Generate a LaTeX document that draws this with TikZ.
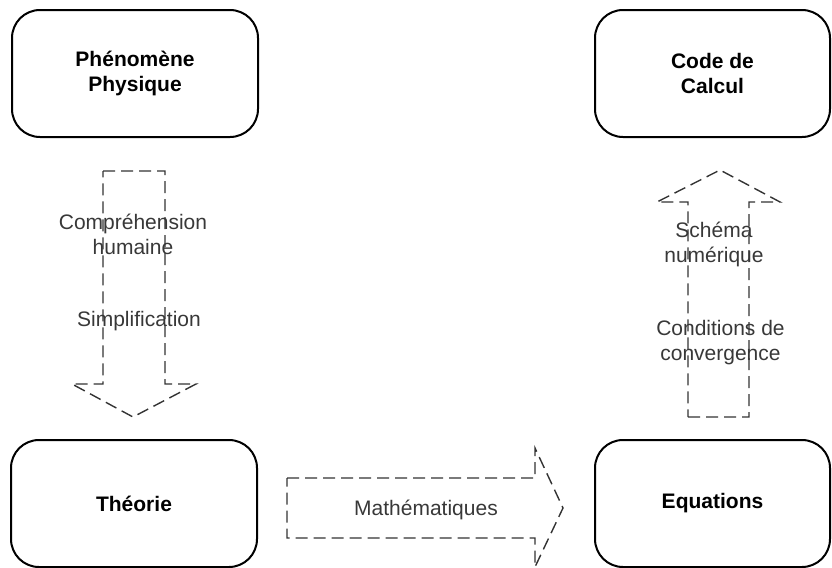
\documentclass[tikz,border=0pt]{standalone}
\usepackage{fontspec}
\setmainfont{Liberation Sans}
\usetikzlibrary{positioning}
\definecolor{trait-gris}{HTML}{333333}
\definecolor{texte-gris}{HTML}{383838}
\tikzset{
  etape/.style={draw=black, line width=1pt, rounded corners=14pt,
    minimum width=123pt, minimum height=63.5pt, align=center,
    font=\fontsize{10.5}{12.5}\selectfont\bfseries},
  bloc/.style={draw=trait-gris, line width=0.7pt, dash pattern=on 6pt off 3pt},
  etiquette/.style={text=texte-gris, align=center, inner sep=0pt,
    font=\fontsize{10.5}{12.5}\selectfont}
}

\begin{document}
\begin{tikzpicture}[x=0.5pt, y=-0.5pt]
        \useasboundingbox (0,0) rectangle (832,568);
        % Boites
        \node[etape] (phenomene) at (135,73.5) {Phénomène\\Physique};
        \node[etape, minimum width=117.5pt] (code) at (712.5,73.5) {Code de\\Calcul};
        \node[etape] (theorie) at (134,503.5) {Théorie};
        \node[etape, minimum width=117.5pt] (equations) at (712.5,503.5) {Equations};
        % Fleches en pointilles
        \draw[bloc] (103,171) -- (165,171) -- (165,384) -- (196,384)
              -- (133,417) -- (72,384) -- (103,384) -- cycle;
        \draw[bloc] (287,478) -- (535,478) -- (535,448) -- (563,508)
              -- (535,567) -- (535,538) -- (287,538) -- cycle;
        \draw[bloc] (688,417) -- (749,417) -- (749,202) -- (780,202)
              -- (720,170) -- (657,202) -- (688,202) -- cycle;
        % Etiquettes
        \node[etiquette] (comprehension) at (133,234.5) {Compréhension\\humaine};
        \node[etiquette] (simplification) at (139,321) {Simplification};
        \node[etiquette] (maths) at (426,510) {Mathématiques};
        \node[etiquette] (schema) at (714,244) {Schéma\\numérique};
        \node[etiquette] (conditions) at (720.5,343) {Conditions de\\convergence};
      \end{tikzpicture}
\end{document}
